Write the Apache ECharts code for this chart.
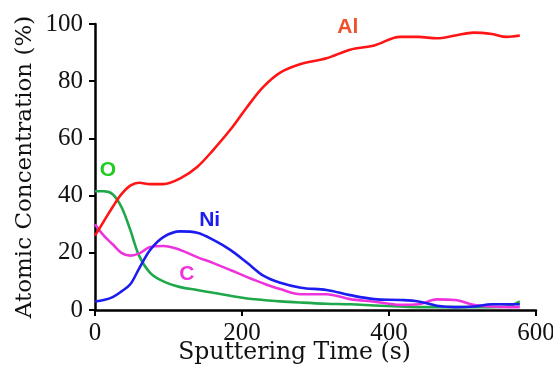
<!DOCTYPE html>
<html>
<head>
<meta charset="utf-8">
<script src="https://cdn.jsdelivr.net/npm/echarts@6/dist/echarts.min.js"></script>
<style>
  html, body { margin: 0; padding: 0; background: #fff; }
  #chart { width: 553px; height: 368px; }
</style>
</head>
<body>
<div id="chart"></div>
<script>
// 溅射时间 (s)
var times = [0, 12, 24, 36, 48, 60, 75, 93, 116, 139, 161, 184, 207, 229, 252, 280, 315, 347, 380, 415, 440, 465, 490, 515, 540, 560, 578];
// 各元素浓度 (%)
var al = [26, 31, 36, 40.5, 43.5, 44.5, 44, 44, 46, 50, 56, 63, 71, 78, 83, 86, 88, 91, 92.5, 95.5, 95.5, 95, 96, 97, 96.5, 95.5, 96];
var o  = [41.5, 41.5, 40.5, 36, 28, 19, 13, 10, 8, 7, 6, 5, 4, 3.5, 3, 2.6, 2.2, 2, 1.6, 1.2, 1, 1, 1, 1, 1, 1.2, 3];
var ni = [3, 3.5, 4.5, 6.5, 9, 14.5, 21, 25.5, 27.5, 27, 24.5, 21, 16.5, 12, 9.5, 7.8, 7, 5.2, 3.8, 3.5, 3, 1.5, 1, 1.2, 2, 2, 2];
var c  = [30, 26, 23, 20, 19, 19.8, 22, 22.4, 21, 18.5, 16.4, 14, 11.5, 9.3, 7.3, 5.5, 5.5, 3.8, 2.9, 1.8, 2, 3.7, 3.5, 1.8, 1.2, 1, 1];
var xTicks = [0, 200, 400, 600];
var yTicks = [0, 20, 40, 60, 80, 100];

function pairs(vals) {
  return times.map(function (t, i) { return [t, vals[i]]; });
}

var chart = echarts.init(document.getElementById('chart'));

function makeSeries(name, vals, color, labelColor, pos) {
  return {
    name: name,
    type: 'line',
    data: pairs(vals),
    smooth: 0.35,
    showSymbol: false,
    lineStyle: { color: color, width: 2.6 },
    markPoint: {
      symbol: 'circle',
      symbolSize: 0,
      data: [{ coord: pos }],
      label: {
        show: true,
        formatter: name,
        color: labelColor,
        fontFamily: 'Liberation Sans',
        fontWeight: 'bold',
        fontSize: 21
      }
    }
  };
}

var option = {
  animation: false,
  grid: { left: 95, right: 17, top: 24, bottom: 58, containLabel: false, outerBoundsMode: 'none' },
  xAxis: {
    type: 'value',
    min: 0, max: 600, interval: 200,
    name: 'Sputtering Time (s)',
    nameLocation: 'middle',
    nameGap: 31,
    nameMoveOverlap: false,
    nameTextStyle: { fontFamily: 'DejaVu Serif', fontSize: 23.5, color: '#111', padding: [0, 42, 0, 0] },
    axisLine: { lineStyle: { color: '#000', width: 2.5 } },
    axisTick: { show: true, length: 6, lineStyle: { color: '#000', width: 2 } },
    axisLabel: { fontFamily: 'Liberation Serif', fontSize: 25, color: '#111', margin: 11 },
    splitLine: { show: false }
  },
  yAxis: {
    type: 'value',
    min: 0, max: 100, interval: 20,
    name: 'Atomic Concentration (%)',
    nameLocation: 'middle',
    nameRotate: 90,
    nameGap: 58,
    nameMoveOverlap: false,
    nameTextStyle: { fontFamily: 'DejaVu Serif', fontSize: 23, color: '#111' },
    axisLine: { show: true, lineStyle: { color: '#000', width: 2.5 } },
    axisTick: { show: true, length: 6, lineStyle: { color: '#000', width: 2 } },
    axisLabel: { fontFamily: 'Liberation Serif', fontSize: 25, color: '#111', margin: 12 },
    splitLine: { show: false }
  },
  series: [
    makeSeries('O', o, '#1fa84a', '#22cc22', [17.7, 49]),
    makeSeries('C', c, '#ee33dd', '#ee33dd', [125, 12.6]),
    makeSeries('Ni', ni, '#1c1cf0', '#1c1cf0', [156, 31.5]),
    makeSeries('Al', al, '#ff1515', '#f0502a', [344, 99])
  ]
};

chart.setOption(option);
</script>
</body>
</html>
